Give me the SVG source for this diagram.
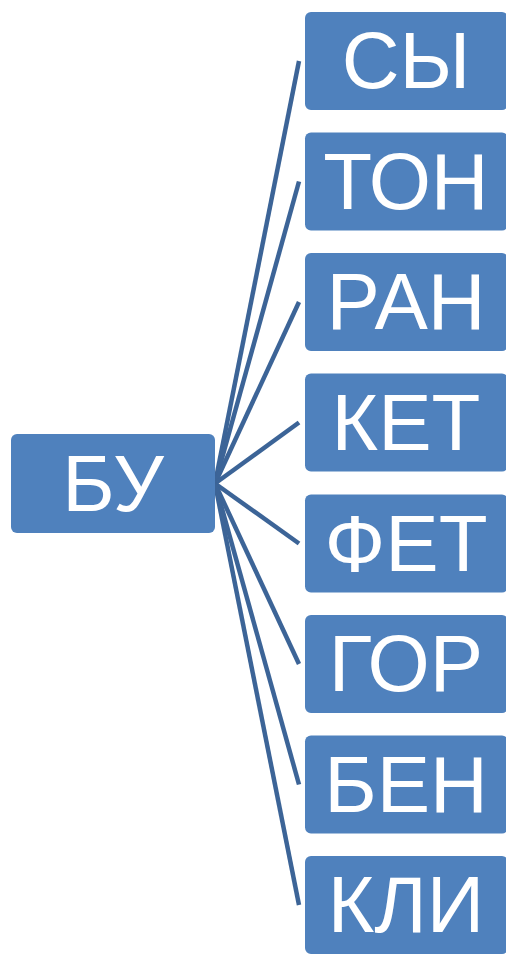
<svg xmlns="http://www.w3.org/2000/svg" width="506" height="954" viewBox="0 0 506 954">
<style>
.n{fill:#4f81bd}
.t{fill:#fff;font-family:"Liberation Sans",Arial,sans-serif;font-size:80px;text-anchor:middle}
.c{stroke:#3c6497;stroke-width:4.5;fill:none}
</style>
<rect width="506" height="954" fill="#fff"/>
<g id="connectors">
<line class="c" x1="215" y1="483.5" x2="299" y2="61"/>
<line class="c" x1="215" y1="483.5" x2="299" y2="181.5"/>
<line class="c" x1="215" y1="483.5" x2="299" y2="302"/>
<line class="c" x1="215" y1="483.5" x2="299" y2="422.5"/>
<line class="c" x1="215" y1="483.5" x2="299" y2="543.5"/>
<line class="c" x1="215" y1="483.5" x2="299" y2="664"/>
<line class="c" x1="215" y1="483.5" x2="299" y2="784.5"/>
<line class="c" x1="215" y1="483.5" x2="299" y2="905"/>
</g>
<g id="root"><rect class="n" x="11" y="434" width="204" height="99" rx="6"/><text class="t" x="113" y="511">БУ</text></g>
<g id="n1"><rect class="n" x="305" y="12" width="203" height="98" rx="6"/><text class="t" x="406" y="88">СЫ</text></g>
<g id="n2"><rect class="n" x="305" y="132.5" width="203" height="98" rx="6"/><text class="t" x="406" y="208.5">ТОН</text></g>
<g id="n3"><rect class="n" x="305" y="253" width="203" height="98" rx="6"/><text class="t" x="406" y="329">РАН</text></g>
<g id="n4"><rect class="n" x="305" y="373.5" width="203" height="98" rx="6"/><text class="t" x="406" y="449.5">КЕТ</text></g>
<g id="n5"><rect class="n" x="305" y="494.5" width="203" height="98" rx="6"/><text class="t" x="406" y="570.5">ФЕТ</text></g>
<g id="n6"><rect class="n" x="305" y="615" width="203" height="98" rx="6"/><text class="t" x="406" y="691">ГОР</text></g>
<g id="n7"><rect class="n" x="305" y="735.5" width="203" height="98" rx="6"/><text class="t" x="406" y="811.5">БЕН</text></g>
<g id="n8"><rect class="n" x="305" y="856" width="203" height="98" rx="6"/><text class="t" x="406" y="932">КЛИ</text></g>
</svg>
